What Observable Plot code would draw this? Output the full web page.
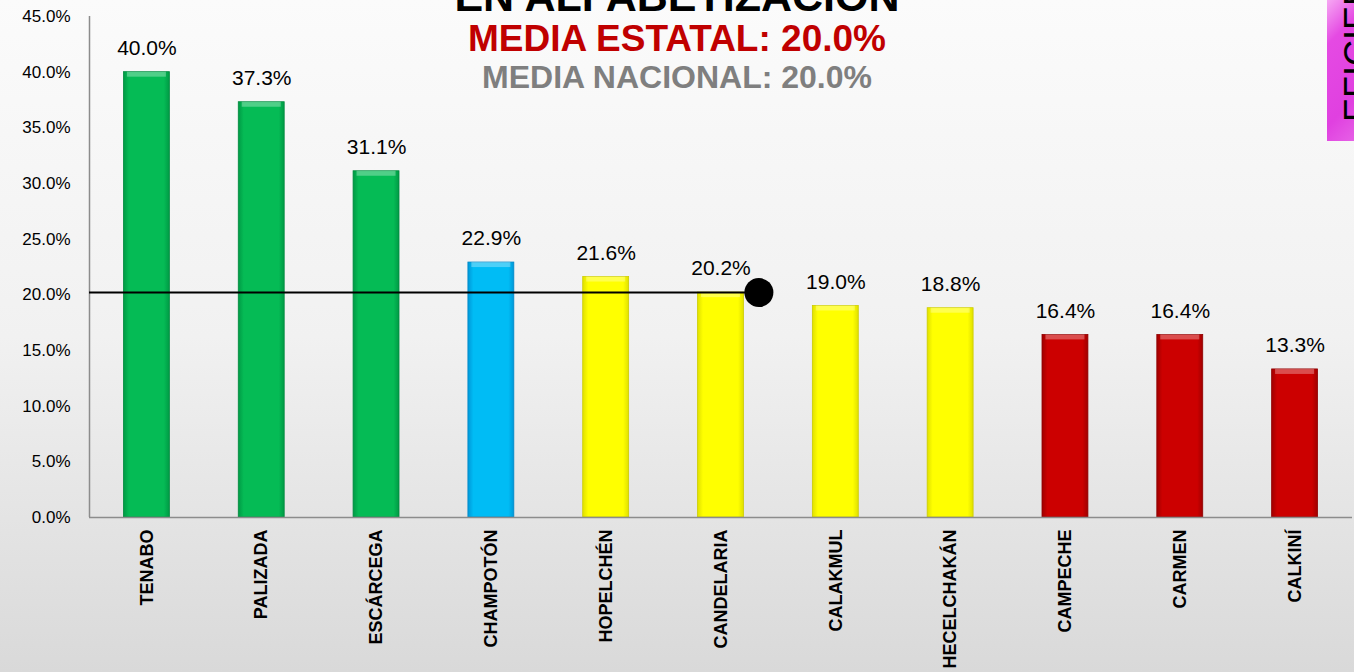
<!DOCTYPE html>
<html>
<head>
<meta charset="utf-8">
<script src="https://cdn.jsdelivr.net/npm/d3@7"></script>
<script src="https://cdn.jsdelivr.net/npm/@observablehq/plot@0.6"></script>
<style>
  html, body { margin: 0; padding: 0; width: 1354px; height: 672px; overflow: hidden; }
  body { background: linear-gradient(to bottom, #fbfbfb 0%, #f1f1f1 50%, #d9d9d9 100%); font-family: "Liberation Sans", Arial, sans-serif; position: relative; }
  #chart { position: absolute; left: 0; top: 0; }
  .t { position: absolute; left: 0; width: 1354px; text-align: center; font-weight: bold; white-space: nowrap; pointer-events: none; }
  #t0 { top: -28px; font-size: 43px; color: #000; }
  #t1 { top: 18px; font-size: 37px; color: #c00000; }
  #t2 { top: 59px; font-size: 32px; color: #7f7f7f; }
  #tab { position: absolute; left: 1327px; top: 0; width: 40px; height: 141px; background: linear-gradient(135deg, #f6a8f3 0%, #e54ae3 25%, #e040e0 70%, #e86ae8 100%); overflow: hidden; }
  #tab span { position: absolute; left: 10px; top: 122px; transform: rotate(-90deg); transform-origin: 0 0; font-size: 36px; color: #000; font-family: "Liberation Sans", Arial, sans-serif; white-space: nowrap; }
</style>
</head>
<body>
<div id="chart"></div>
<div class="t" id="t0">EN ALFABETIZACIÓN</div>
<div class="t" id="t1">MEDIA ESTATAL: 20.0%</div>
<div class="t" id="t2">MEDIA NACIONAL: 20.0%</div>
<div id="tab"><span>EFICIENCIA</span></div>
<script>
const municipios = ["TENABO", "PALIZADA", "ESCÁRCEGA", "CHAMPOTÓN", "HOPELCHÉN", "CANDELARIA", "CALAKMUL", "HECELCHAKÁN", "CAMPECHE", "CARMEN", "CALKINÍ"];
const valores = [40.0, 37.3, 31.1, 22.9, 21.6, 20.2, 19.0, 18.8, 16.4, 16.4, 13.3];
const grupos = ["verde", "verde", "verde", "azul", "amarillo", "amarillo", "amarillo", "amarillo", "rojo", "rojo", "rojo"];
const yTicks = [0, 5, 10, 15, 20, 25, 30, 35, 40, 45];
const lineaRef = 20.2;

const colores = {
  verde: ["#009a45", "#05bb55", "#008a3e"],
  azul: ["#0098d8", "#00bcf5", "#0088c8"],
  amarillo: ["#e0e000", "#ffff00", "#cccc00"],
  rojo: ["#a00000", "#cc0000", "#900000"]
};

const data = municipios.map((m, i) => ({ m, i, v: valores[i], g: grupos[i] }));
const half = 0.2;

const chart = Plot.plot({
  width: 1354,
  height: 672,
  marginLeft: 89,
  marginRight: 2,
  marginTop: 16,
  marginBottom: 155,
  style: { background: "transparent", fontFamily: "Liberation Sans, Arial, sans-serif" },
  x: { type: "linear", domain: [-0.5, municipios.length - 0.5] },
  y: { domain: [0, 45] },
  color: { type: "identity" },
  marks: [
    Plot.rectY(data, { x1: d => d.i - half, x2: d => d.i + half, y1: 0, y2: "v", fill: d => `url(#grad-${d.g})`, stroke: d => colores[d.g][2], strokeWidth: 0.8 }),
    Plot.rectY(data, { x1: d => d.i - half + 0.03, x2: d => d.i + half - 0.03, y1: d => d.v - 0.45, y2: "v", fill: "white", fillOpacity: 0.3 }),
    Plot.ruleX([-0.5], { y1: 0, y2: 45, stroke: "#8c8c8c", strokeWidth: 1.5 }),
    Plot.ruleY([0], { stroke: "#8c8c8c", strokeWidth: 1.5 }),
    Plot.axisY({ ticks: yTicks, tickSize: 0, tickPadding: 19, tickFormat: d => d.toFixed(1) + "%", fontSize: 17, fill: "#000", label: null }),
    Plot.axisX({ ticks: d3.range(municipios.length), tickSize: 0, tickFormat: i => municipios[i], tickRotate: -90, tickPadding: 12, fontSize: 18, fontWeight: "bold", fill: "#000", label: null }),
    Plot.text(data, { x: "i", y: "v", text: d => d.v.toFixed(1) + "%", dy: -24, fontSize: 21, fill: "#000" }),
    Plot.ruleY([lineaRef], { x1: -0.5, x2: 5.33, stroke: "#000", strokeWidth: 2 }),
    Plot.dot([lineaRef], { x: 5.33, y: d => d, r: 14.5, fill: "#000" })
  ]
});

// gradient defs for the bevelled bars
const svgNS = "http://www.w3.org/2000/svg";
const defs = document.createElementNS(svgNS, "defs");
for (const [k, c] of Object.entries(colores)) {
  const lg = document.createElementNS(svgNS, "linearGradient");
  lg.setAttribute("id", "grad-" + k);
  lg.setAttribute("x1", "0"); lg.setAttribute("x2", "1"); lg.setAttribute("y1", "0"); lg.setAttribute("y2", "0");
  [[0, c[0]], [0.12, c[1]], [0.88, c[1]], [1, c[0]]].forEach(([o, col]) => {
    const s = document.createElementNS(svgNS, "stop");
    s.setAttribute("offset", o); s.setAttribute("stop-color", col);
    lg.appendChild(s);
  });
  defs.appendChild(lg);
}
chart.insertBefore(defs, chart.firstChild);
document.getElementById("chart").appendChild(chart);
</script>
</body>
</html>
